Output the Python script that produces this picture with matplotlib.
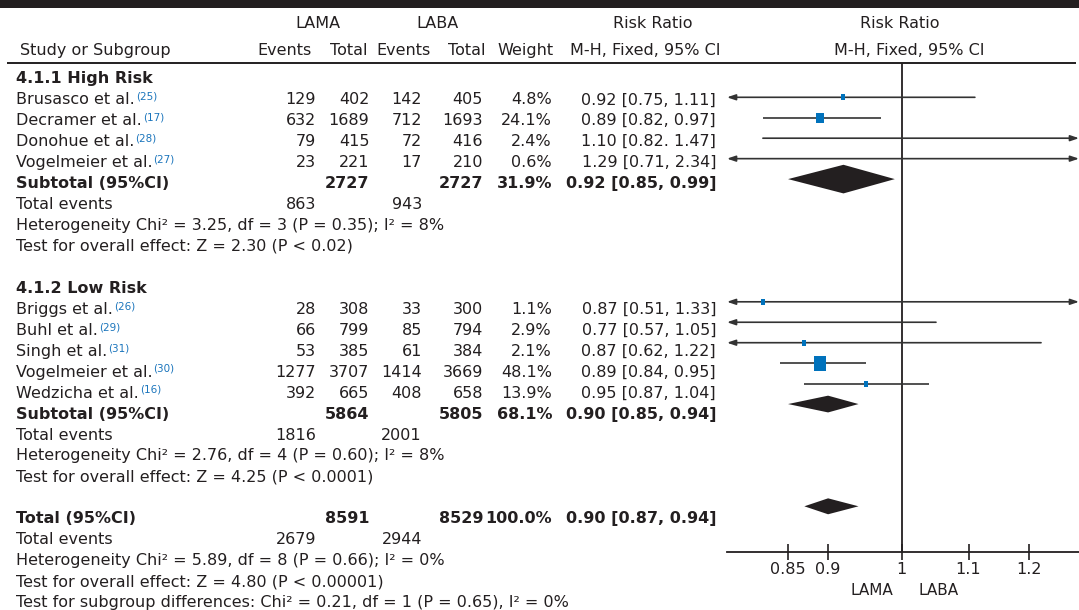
import matplotlib
matplotlib.use('Agg')
import matplotlib.pyplot as plt
from matplotlib.patches import Rectangle
from matplotlib.ticker import NullLocator
from matplotlib.transforms import blended_transform_factory

INK = '#231f20'
BOX_BLUE = '#0072bc'
REF_BLUE = '#1b75bc'
FONT = 11.5

# ---- study rows ----
names = ['Brusasco et al.', 'Decramer et al.', 'Donohue et al.', 'Vogelmeier et al.',
         'Briggs et al.', 'Buhl et al.', 'Singh et al.', 'Vogelmeier et al.', 'Wedzicha et al.']
refs = ['(25)', '(17)', '(28)', '(27)', '(26)', '(29)', '(31)', '(30)', '(16)']
study_rows = [1, 2, 3, 4, 11, 12, 13, 14, 15]
lama_events = [129, 632, 79, 23, 28, 66, 53, 1277, 392]
lama_total = [402, 1689, 415, 221, 308, 799, 385, 3707, 665]
laba_events = [142, 712, 72, 17, 33, 85, 61, 1414, 408]
laba_total = [405, 1693, 416, 210, 300, 794, 384, 3669, 658]
weights = ['4.8%', '24.1%', '2.4%', '0.6%', '1.1%', '2.9%', '2.1%', '48.1%', '13.9%']
rr_labels = ['0.92 [0.75, 1.11]', '0.89 [0.82, 0.97]', '1.10 [0.82. 1.47]', '1.29 [0.71, 2.34]',
             '0.87 [0.51, 1.33]', '0.77 [0.57, 1.05]', '0.87 [0.62, 1.22]', '0.89 [0.84, 0.95]',
             '0.95 [0.87, 1.04]']
rr_lo = [0.75, 0.82, 0.82, 0.71, 0.51, 0.57, 0.62, 0.84, 0.87]
rr_hi = [1.11, 0.97, 1.47, 2.34, 1.33, 1.05, 1.22, 0.95, 1.04]
box_at = [0.92, 0.89, 1.10, 1.29, 0.82, 0.77, 0.87, 0.89, 0.95]  # where the boxes sit in the plot
box_px = [5.5, 10, 0, 0, 5.5, 0, 5.5, 15, 5.5]                  # box height in pixels (0 = not drawn)

# ---- pooled rows ----
pool_rows = [5, 16, 21]
pool_names = ['Subtotal (95%CI)', 'Subtotal (95%CI)', 'Total (95%CI)']
pool_lama_total = [2727, 5864, 8591]
pool_laba_total = [2727, 5805, 8529]
pool_weights = ['31.9%', '68.1%', '100.0%']
pool_labels = ['0.92 [0.85, 0.99]', '0.90 [0.85, 0.94]', '0.90 [0.87, 0.94]']
pool_est = [0.92, 0.90, 0.90]
pool_lo = [0.85, 0.85, 0.87]
pool_hi = [0.99, 0.94, 0.94]
pool_half_h = [0.70, 0.41, 0.39]   # diamond half height, in rows

event_rows = [6, 17, 22]
lama_event_sum = [863, 1816, 2679]
laba_event_sum = [943, 2001, 2944]

group_rows = [0, 10]
group_names = ['4.1.1 High Risk', '4.1.2 Low Risk']

note_rows = [7, 8, 18, 19, 23, 24, 25]
notes = ['Heterogeneity Chi\u00b2 = 3.25, df = 3 (P = 0.35); I\u00b2 = 8%',
         'Test for overall effect: Z = 2.30 (P < 0.02)',
         'Heterogeneity Chi\u00b2 = 2.76, df = 4 (P = 0.60); I\u00b2 = 8%',
         'Test for overall effect: Z = 4.25 (P < 0.0001)',
         'Heterogeneity Chi\u00b2 = 5.89, df = 8 (P = 0.66); I\u00b2 = 0%',
         'Test for overall effect: Z = 4.80 (P < 0.00001)',
         'Test for subgroup differences: Chi\u00b2 = 0.21, df = 1 (P = 0.65), I\u00b2 = 0%']

ticks = [0.85, 0.9, 1, 1.1, 1.2]
tick_labels = ['0.85', '0.9', '1', '1.1', '1.2']
x_range = (0.779, 1.288)

# ---- layout (pixels) ----
W, H = 1079, 610
ROW0, ROWH = 77.5, 20.95          # table rows
PROW0, PROWH = 76.85, 20.45       # plot rows
PLOT_L, PLOT_TOP, PLOT_BOT = 727, 62.5, 552
BASE = 0.28                       # baseline below the row centre, in rows

X_NAME = 15.5
X_LAMA_EV, X_LAMA_TOT, X_LABA_EV, X_LABA_TOT, X_W, X_RR = 316, 369.5, 422, 483, 552, 716

fig = plt.figure(figsize=(W / 100, H / 100), dpi=100)
fig.patch.set_facecolor('white')
fig.add_artist(Rectangle((0, 1 - 7.5 / H), 1, 7.5 / H, transform=fig.transFigure,
                         facecolor='#231f20', lw=0))

tab = fig.add_axes([0, 0, 1, 1])
tab.set_xlim(0, W)
tab.set_ylim((H - ROW0) / ROWH, -ROW0 / ROWH)
tab.axis('off')


def txt(x, row, s, ha='right', bold=False, **kw):
    return tab.text(x, row + BASE, s, ha=ha, va='baseline', fontsize=FONT, color=INK,
                    fontweight='bold' if bold else 'normal', **kw)


def px_row(y):
    return (y - ROW0) / ROWH


# header
txt(318, px_row(22), 'LAMA', ha='center')
txt(437, px_row(22), 'LABA', ha='center')
txt(653, px_row(22), 'Risk Ratio', ha='center')
txt(900, px_row(22), 'Risk Ratio', ha='center')
txt(19.6, px_row(49.5), 'Study or Subgroup', ha='left')
for x, s in zip([312, 367, 431, 486, 554], ['Events', 'Total', 'Events', 'Total', 'Weight']):
    txt(x, px_row(49.5), s)
txt(645, px_row(49.5), 'M-H, Fixed, 95% CI', ha='center')
txt(909, px_row(49.5), 'M-H, Fixed, 95% CI', ha='center')
tab.plot([7, 1076], [px_row(62.5)] * 2, color=INK, lw=1.4, solid_capstyle='butt')

for r, s in zip(group_rows, group_names):
    txt(X_NAME, r, s, ha='left', bold=True)

for i, r in enumerate(study_rows):
    t = txt(X_NAME, r, names[i], ha='left')
    tab.annotate(refs[i], xy=(1, 1), xycoords=t, xytext=(1.0, 0.5), textcoords='offset points',
                 ha='left', va='top', fontsize=7.5, color=REF_BLUE)
    txt(X_LAMA_EV, r, str(lama_events[i]))
    txt(X_LAMA_TOT, r, str(lama_total[i]))
    txt(X_LABA_EV, r, str(laba_events[i]))
    txt(X_LABA_TOT, r, str(laba_total[i]))
    txt(X_W, r, weights[i])
    txt(X_RR, r, rr_labels[i])

for i, r in enumerate(pool_rows):
    txt(X_NAME, r, pool_names[i], ha='left', bold=True)
    txt(X_LAMA_TOT, r, str(pool_lama_total[i]), bold=True)
    txt(X_LABA_TOT, r, str(pool_laba_total[i]), bold=True)
    txt(X_W, r, pool_weights[i], bold=True)
    txt(X_RR, r, pool_labels[i], bold=True)

for i, r in enumerate(event_rows):
    txt(X_NAME, r, 'Total events', ha='left')
    txt(X_LAMA_EV, r, str(lama_event_sum[i]))
    txt(X_LABA_EV, r, str(laba_event_sum[i]))

for r, s in zip(note_rows, notes):
    txt(X_NAME, r, s, ha='left')

# ---- forest plot ----
ax = fig.add_axes([PLOT_L / W, (H - PLOT_BOT) / H, (W - PLOT_L) / W, (PLOT_BOT - PLOT_TOP) / H])
ax.patch.set_visible(False)
ax.set_xscale('log')
ax.set_xlim(*x_range)
ax.set_ylim((PLOT_BOT - PROW0) / PROWH, (PLOT_TOP - PROW0) / PROWH)
for side in ['top', 'left', 'right']:
    ax.spines[side].set_visible(False)
ax.spines['bottom'].set_color(INK)
ax.spines['bottom'].set_linewidth(1.3)
ax.set_yticks([])
ax.set_xticks(ticks)
ax.set_xticklabels(tick_labels)
ax.xaxis.set_minor_locator(NullLocator())
ax.tick_params(axis='x', direction='inout', length=11, width=1.2, colors=INK,
               labelsize=FONT, pad=1.5)
ax.axvline(1, color=INK, lw=1.3)

xmin, xmax = x_range
for i, r in enumerate(study_rows):
    lo, hi = rr_lo[i], rr_hi[i]
    x0, x1 = max(lo, xmin), min(hi, xmax)
    left, right = lo < xmin, hi > xmax
    style = {(False, False): '-', (True, False): '<|-', (False, True): '-|>',
             (True, True): '<|-|>'}[(left, right)]
    if style == '-':
        ax.plot([x0, x1], [r, r], color='#333333', lw=1.2, solid_capstyle='butt')
    else:
        ax.annotate('', xy=(x1, r), xytext=(x0, r), annotation_clip=False,
                    arrowprops=dict(arrowstyle=style + ',head_length=0.5,head_width=0.17',
                                    color='#333333', lw=1.2, shrinkA=0, shrinkB=0))
    if box_px[i] > 0 and xmin < box_at[i] < xmax:
        ax.plot(box_at[i], r, marker=[(-0.42, -0.5), (0.42, -0.5), (0.42, 0.5), (-0.42, 0.5)],
                markersize=box_px[i] * 0.72, color=BOX_BLUE, markeredgewidth=0, zorder=3)

for i, r in enumerate(pool_rows):
    h = pool_half_h[i]
    ax.fill([pool_lo[i], pool_est[i], pool_hi[i], pool_est[i]], [r, r - h, r, r + h],
            color=INK, lw=0, zorder=3)

lab_tr = blended_transform_factory(ax.transData, ax.transAxes)
lab_y = -(590.8 - PLOT_BOT) / (PLOT_BOT - PLOT_TOP)
ax.text(0.958, lab_y, 'LAMA', transform=lab_tr, ha='center', va='center', fontsize=FONT - 0.5,
        color=INK)
ax.text(1.054, lab_y, 'LABA', transform=lab_tr, ha='center', va='center', fontsize=FONT - 0.5,
        color=INK)

fig.savefig('out.png', dpi=100)
